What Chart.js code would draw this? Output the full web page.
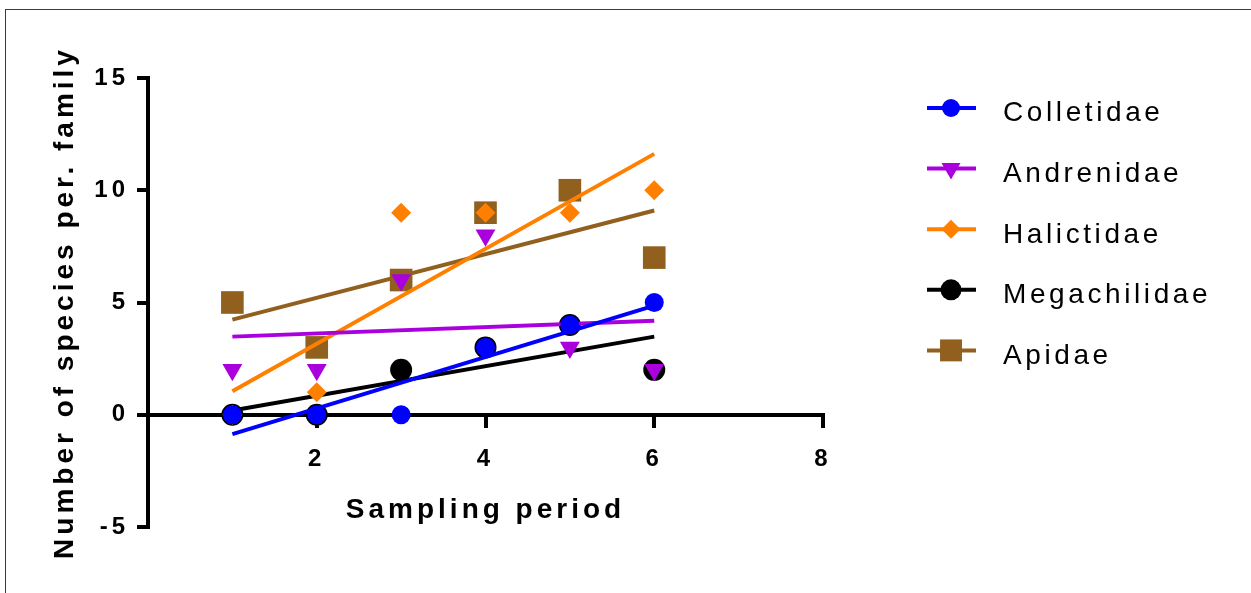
<!DOCTYPE html>
<html lang="en">
<head>
<meta charset="utf-8" />
<title>Number of species per family</title>
<style>
  html, body { margin: 0; padding: 0; background: #fff; overflow: hidden; }
  #wrap { position: relative; width: 1251px; height: 593px; }
  #frame { position: absolute; left: 5px; top: 9px; right: -2px; bottom: -2px;
           border-top: 1px solid #3c3c3c; border-left: 1px solid #3c3c3c; pointer-events: none; }
</style>
<script src="https://cdn.jsdelivr.net/npm/chart.js"></script>
</head>
<body>
<div id="wrap">
  <canvas id="chart"></canvas>
  <div id="frame"></div>
</div>
<script>
// data
const families = ['Colletidae', 'Andrenidae', 'Halictidae', 'Megachilidae', 'Apidae'];
const periods = [1, 2, 3, 4, 5, 6];
const colletidae = [0, 0, 0, 3, 4, 5];
const andrenidae = [2, 2, 6, 8, 3, 2];
const halictidae = [0, 1, 9, 9, 9, 10];
const megachilidae = [0, 0, 2, 3, 4, 2];
const apidae = [5, 3, 6, 9, 10, 7];

// fitted lines, end values at period 1 and 6
const fitX = [1, 6];
const colletidaeFit = [-0.86, 4.86];
const andrenidaeFit = [3.48, 4.19];
const halictidaeFit = [1.05, 11.62];
const megachilidaeFit = [0.19, 3.48];
const apidaeFit = [4.24, 9.10];

const xTicks = [2, 4, 6, 8];
const yTicks = [-5, 0, 5, 10, 15];

const FONT = '"Liberation Sans", Arial, sans-serif';
Chart.defaults.font.family = FONT;
Chart.defaults.color = '#000';

const series = [
  { values: colletidae,   fit: colletidaeFit,   color: '#0000ff', style: 'circle',   rot: 0,   r: 9.5 },
  { values: andrenidae,   fit: andrenidaeFit,   color: '#aa00dd', style: 'triangle', rot: 180, r: 11.5 },
  { values: halictidae,   fit: halictidaeFit,   color: '#ff8000', style: 'rectRot',  rot: 0,   r: 10 },
  { values: megachilidae, fit: megachilidaeFit, color: '#000000', style: 'circle',   rot: 0,   r: 11 },
  { values: apidae,       fit: apidaeFit,       color: '#915f1e', style: 'rect',     rot: 0,   r: 16 }
];

const datasets = [];
series.forEach((s, i) => {
  datasets.push({
    label: families[i],
    data: periods.map((p, j) => ({ x: p, y: s.values[j] })),
    pointStyle: s.style,
    pointRotation: s.rot,
    pointRadius: s.r,
    pointBackgroundColor: s.color,
    backgroundColor: s.color,
    pointBorderWidth: 0,
    showLine: false
  });
  datasets.push({
    label: families[i] + ' fit',
    data: fitX.map((p, j) => ({ x: p, y: s.fit[j] })),
    showLine: true,
    borderColor: s.color,
    borderWidth: 4,
    pointRadius: 0,
    fill: false
  });
});

// letter spaced text like the original figure
const spacing = {
  id: 'spacing',
  beforeUpdate(chart) { chart.ctx.letterSpacing = '4px'; },
  beforeDraw(chart) { chart.ctx.letterSpacing = '4px'; }
};

const sideLegend = {
  id: 'sideLegend',
  afterDraw(chart) {
    const ctx = chart.ctx;
    ctx.save();
    ctx.letterSpacing = '3.6px';
    ctx.font = '28px ' + FONT;
    ctx.textBaseline = 'alphabetic';
    ctx.textAlign = 'left';
    series.forEach((s, i) => {
      const y = 108 + i * 60.6;
      ctx.strokeStyle = s.color;
      ctx.lineWidth = 4;
      ctx.beginPath();
      ctx.moveTo(927, y);
      ctx.lineTo(976, y);
      ctx.stroke();
      ctx.fillStyle = s.color;
      Chart.helpers.drawPoint(ctx, { pointStyle: s.style, rotation: s.rot, radius: s.r - 0.5, borderWidth: 0 }, 951, y);
      ctx.fillStyle = '#000';
      ctx.fillText(families[i], 1003, y + 13.4);
    });
    ctx.restore();
  }
};

new Chart(document.getElementById('chart'), {
  type: 'scatter',
  data: { datasets: datasets },
  plugins: [spacing, sideLegend],
  options: {
    responsive: true,
    maintainAspectRatio: false,
    animation: false,
    events: [],
    layout: { padding: { left: 0, top: 78, right: 428, bottom: 66 } },
    plugins: { legend: { display: false }, tooltip: { enabled: false } },
    scales: {
      x: {
        type: 'linear',
        min: 0, max: 8,
        position: { y: 0 },
        afterBuildTicks: sc => { sc.ticks = xTicks.map(v => ({ value: v })); },
        afterFit: sc => { sc.height = 112; },
        grid: { drawOnChartArea: false, drawTicks: true, tickLength: 11, tickWidth: 4, lineWidth: 4, tickColor: '#000' },
        border: { display: true, width: 4, color: '#000' },
        ticks: { padding: 19, font: { size: 24, weight: 'bold', lineHeight: 1.2 }, color: '#000', maxRotation: 0 },
        title: { display: true, text: 'Sampling period', font: { size: 28, weight: 'bold', lineHeight: 1.2 }, padding: 0, color: '#000' }
      },
      y: {
        type: 'linear',
        min: -5, max: 15,
        position: 'left',
        afterBuildTicks: sc => { sc.ticks = yTicks.map(v => ({ value: v })); },
        afterFit: sc => { sc.width = 148; },
        grid: { drawOnChartArea: false, drawTicks: true, tickLength: 11, tickWidth: 4, lineWidth: 4, tickColor: '#000' },
        border: { display: true, width: 4, color: '#000' },
        ticks: { padding: 8, font: { size: 24, weight: 'bold', lineHeight: 1.2 }, color: '#000' },
        title: { display: true, text: 'Number of species per. family', font: { size: 28, weight: 'bold', lineHeight: 1.2 }, padding: { top: 48, bottom: 0 }, color: '#000' }
      }
    }
  }
});
</script>
</body>
</html>
